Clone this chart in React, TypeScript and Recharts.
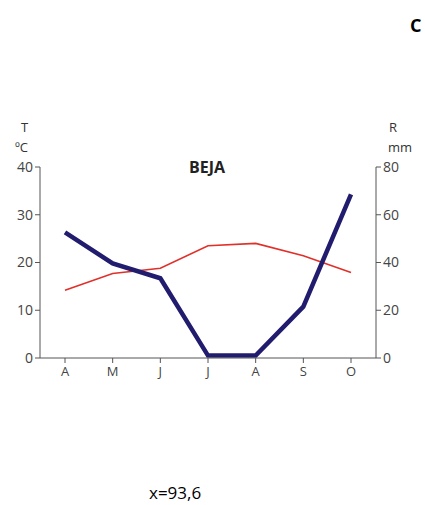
import { LineChart, Line, XAxis, YAxis } from "recharts";

const months = ["A", "M", "J", "J", "A", "S", "O"];
const temperature = [14.2, 17.7, 18.8, 23.5, 24.0, 21.4, 17.9];
const rainfall = [52.6, 39.6, 33.4, 1, 1, 21.5, 68.5];
const tempTicks = [0, 10, 20, 30, 40];
const rainTicks = [0, 20, 40, 60, 80];

const data = months.map((m, i) => ({
  month: m,
  key: i,
  temp: temperature[i],
  rain: rainfall[i],
}));

const font = "'Open Sans', 'DejaVu Sans', sans-serif";
const axisColor = "#555";

export default function App() {
  const label = (text: string, left: number, top: number, extra = {}) => (
    <div
      style={{
        position: "absolute",
        left,
        top,
        fontFamily: font,
        fontSize: 13,
        color: "#333",
        lineHeight: 1,
        ...extra,
      }}
    >
      {text}
    </div>
  );

  return (
    <div style={{ position: "absolute", left: 0, top: 0, width: 425, height: 505, background: "#fff" }}>
      <LineChart
        width={425}
        height={505}
        data={data}
        margin={{ top: 167, right: 19, bottom: 117, left: 10 }}
      >
        <XAxis
          dataKey="key"
          tickFormatter={(i) => months[i]}
          padding={{ left: 25, right: 25 }}
          stroke={axisColor}
          tick={{ fill: "#444", fontSize: 13, fontFamily: font }}
          tickSize={5}
          tickMargin={4}
        />
        <YAxis
          yAxisId="t"
          orientation="left"
          width={30}
          domain={[0, 40]}
          ticks={tempTicks}
          stroke={axisColor}
          tick={{ fill: "#444", fontSize: 14, fontFamily: font }}
          tickSize={5}
        />
        <YAxis
          yAxisId="r"
          orientation="right"
          width={30}
          domain={[0, 80]}
          ticks={rainTicks}
          stroke={axisColor}
          tick={{ fill: "#444", fontSize: 14, fontFamily: font }}
          tickSize={5}
        />
        <Line
          yAxisId="t"
          dataKey="temp"
          stroke="#e0302a"
          strokeWidth={1.6}
          dot={false}
          isAnimationActive={false}
        />
        <Line
          yAxisId="r"
          dataKey="rain"
          stroke="#211c6e"
          strokeWidth={4.5}
          dot={false}
          isAnimationActive={false}
        />
      </LineChart>
      {label("T", 21, 121)}
      {label("ºC", 15, 141)}
      {label("R", 389, 121)}
      {label("mm", 388, 141)}
      {label("BEJA", 189, 159, { fontWeight: "bold", fontSize: 16, color: "#222" })}
      {label("C", 410, 16, { fontWeight: "bold", fontSize: 18, color: "#000" })}
      {label("x=93,6", 149, 484, { fontSize: 17, color: "#000" })}
    </div>
  );
}
